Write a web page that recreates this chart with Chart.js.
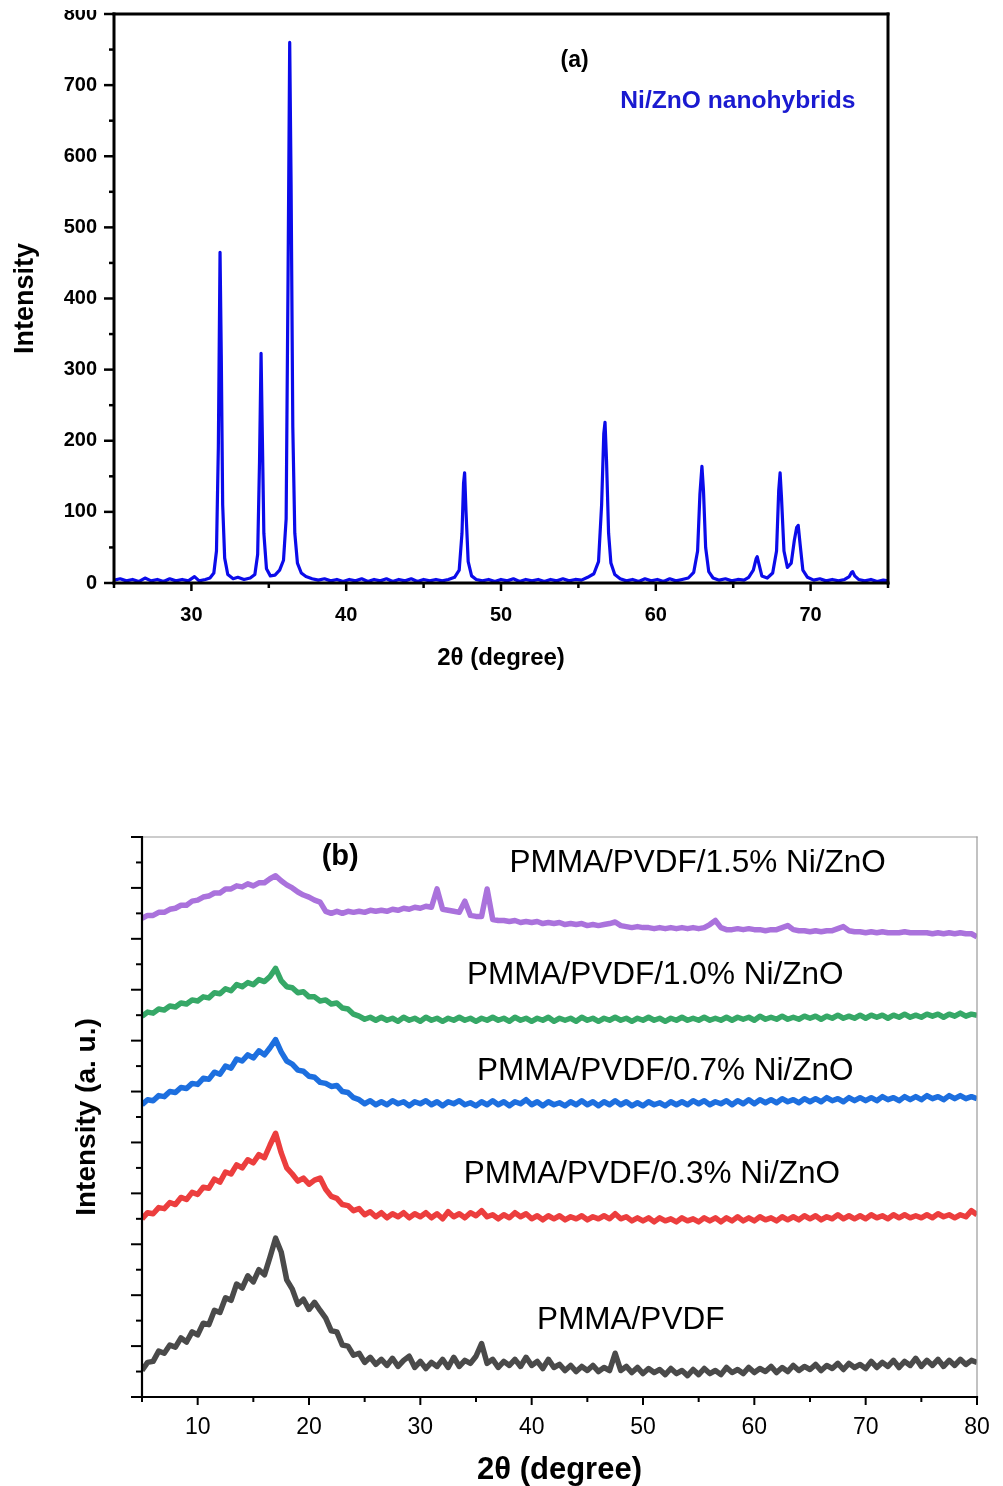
<!DOCTYPE html>
<html>
<head>
<meta charset="utf-8">
<title>XRD patterns</title>
<script src="https://cdn.jsdelivr.net/npm/chart.js@4.4.0/dist/chart.umd.min.js"></script>
<style>
  body { margin: 0; background: #fff; overflow: hidden; width: 1003px; height: 1486px; position: relative; }
  #wrapA { position: absolute; top: 10px; left: 0; width: 1003px; height: 690px; overflow: hidden; }
  canvas { position: absolute; left: 0; }
  #chartA { top: -10px; }
  #chartB { top: 760px; }
</style>
</head>
<body>
<div id="wrapA"><canvas id="chartA" width="1003" height="700"></canvas></div>
<canvas id="chartB" width="1003" height="740"></canvas>
<script>
// (a) Ni/ZnO powder pattern: 2theta (degree) and intensity
const thetaA = [25.0,25.4,25.8,26.2,26.6,27.0,27.4,27.8,28.2,28.6,29.0,29.4,29.8,30.2,30.5,30.9,31.2,31.45,31.62,31.74,31.85,31.93,32.02,32.15,32.35,32.7,33.0,33.4,33.8,34.1,34.28,34.4,34.5,34.58,34.68,34.85,35.1,35.4,35.7,35.95,36.12,36.24,36.35,36.44,36.55,36.68,36.85,37.1,37.4,37.8,38.2,38.6,39.0,39.4,39.8,40.2,40.6,41.0,41.4,41.8,42.2,42.6,43.0,43.4,43.8,44.2,44.6,45.0,45.4,45.8,46.2,46.6,47.0,47.3,47.48,47.58,47.65,47.74,47.88,48.1,48.4,48.8,49.2,49.6,50.0,50.4,50.8,51.2,51.6,52.0,52.4,52.8,53.2,53.6,54.0,54.4,54.8,55.2,55.6,56.0,56.3,56.5,56.64,56.72,56.82,56.95,57.1,57.35,57.7,58.1,58.5,58.9,59.3,59.7,60.1,60.5,60.9,61.3,61.7,62.1,62.45,62.7,62.85,62.98,63.08,63.22,63.42,63.7,64.1,64.5,64.9,65.3,65.7,66.0,66.3,66.48,66.55,66.65,66.85,67.2,67.55,67.8,67.94,68.03,68.12,68.28,68.5,68.75,68.95,69.1,69.2,69.32,69.5,69.8,70.2,70.6,71.0,71.4,71.8,72.2,72.5,72.65,72.72,72.85,73.1,73.5,73.9,74.3,74.7,75.0];
const intensityA = [4,6,3,5,2,7,3,5,2,6,3,5,3,9,3,5,7,14,45,190,465,320,110,35,12,6,8,5,7,12,40,170,323,210,70,20,10,11,18,32,90,420,760,560,220,70,28,14,9,6,4,6,3,5,2,5,3,6,2,5,3,6,2,5,3,6,2,5,3,5,3,5,8,18,70,140,155,100,30,10,5,3,5,2,5,3,6,2,5,3,5,2,5,3,6,3,5,4,8,13,30,110,210,226,170,70,28,12,6,3,5,2,6,3,5,2,6,3,5,7,15,45,125,164,130,50,16,7,4,6,3,5,4,8,18,34,37,28,10,7,14,45,130,155,120,45,22,28,60,78,81,55,18,8,4,6,3,5,3,5,9,15,16,10,5,3,5,2,4,3];

// (b) PMMA/PVDF blends, offset vertically (a. u.)
const thetaB = [5,5.5,6,6.5,7,7.5,8,8.5,9,9.5,10,10.5,11,11.5,12,12.5,13,13.5,14,14.5,15,15.5,16,16.5,17,17.5,18,18.5,19,19.5,20,20.5,21,21.5,22,22.5,23,23.5,24,24.5,25,25.5,26,26.5,27,27.5,28,28.5,29,29.5,30,30.5,31,31.5,32,32.5,33,33.5,34,34.5,35,35.5,36,36.5,37,37.5,38,38.5,39,39.5,40,40.5,41,41.5,42,42.5,43,43.5,44,44.5,45,45.5,46,46.5,47,47.5,48,48.5,49,49.5,50,50.5,51,51.5,52,52.5,53,53.5,54,54.5,55,55.5,56,56.5,57,57.5,58,58.5,59,59.5,60,60.5,61,61.5,62,62.5,63,63.5,64,64.5,65,65.5,66,66.5,67,67.5,68,68.5,69,69.5,70,70.5,71,71.5,72,72.5,73,73.5,74,74.5,75,75.5,76,76.5,77,77.5,78,78.5,79,79.5,80];
const blendPure = [0.52,0.68,0.70,0.90,0.86,1.02,0.98,1.16,1.08,1.28,1.22,1.45,1.42,1.70,1.66,1.95,1.90,2.22,2.14,2.38,2.26,2.50,2.40,2.75,3.12,2.85,2.30,2.12,1.82,1.92,1.72,1.86,1.70,1.55,1.30,1.28,1.02,1.00,0.82,0.86,0.68,0.78,0.64,0.74,0.62,0.76,0.60,0.72,0.80,0.58,0.70,0.56,0.68,0.60,0.74,0.58,0.78,0.60,0.72,0.66,0.80,1.05,0.66,0.74,0.58,0.70,0.62,0.74,0.60,0.78,0.62,0.70,0.56,0.74,0.58,0.64,0.52,0.62,0.50,0.60,0.52,0.62,0.50,0.58,0.52,0.86,0.52,0.60,0.48,0.58,0.46,0.56,0.48,0.54,0.44,0.56,0.46,0.52,0.42,0.54,0.44,0.56,0.46,0.52,0.44,0.58,0.48,0.54,0.46,0.58,0.48,0.56,0.50,0.60,0.48,0.58,0.50,0.62,0.52,0.60,0.54,0.64,0.52,0.62,0.56,0.66,0.54,0.66,0.58,0.64,0.56,0.70,0.58,0.68,0.60,0.72,0.58,0.70,0.62,0.76,0.60,0.72,0.62,0.74,0.60,0.72,0.62,0.74,0.64,0.72,0.68];
const blend03 = [3.50,3.62,3.60,3.72,3.70,3.82,3.78,3.92,3.88,4.02,3.98,4.12,4.10,4.28,4.22,4.42,4.38,4.56,4.50,4.66,4.60,4.76,4.70,4.95,5.18,4.80,4.50,4.38,4.24,4.30,4.18,4.26,4.30,4.08,3.94,3.90,3.78,3.76,3.66,3.70,3.58,3.64,3.54,3.62,3.52,3.60,3.54,3.62,3.52,3.60,3.54,3.62,3.52,3.60,3.50,3.64,3.54,3.60,3.52,3.62,3.56,3.66,3.54,3.58,3.50,3.58,3.52,3.62,3.54,3.60,3.50,3.56,3.48,3.56,3.50,3.56,3.48,3.54,3.50,3.56,3.48,3.54,3.50,3.56,3.50,3.60,3.50,3.54,3.46,3.52,3.46,3.52,3.44,3.52,3.46,3.50,3.44,3.52,3.46,3.50,3.44,3.52,3.46,3.52,3.44,3.52,3.46,3.54,3.46,3.52,3.46,3.54,3.48,3.52,3.46,3.54,3.48,3.54,3.48,3.56,3.50,3.56,3.48,3.54,3.50,3.58,3.50,3.56,3.50,3.56,3.50,3.58,3.52,3.56,3.50,3.58,3.52,3.58,3.52,3.56,3.52,3.58,3.52,3.60,3.54,3.58,3.52,3.58,3.54,3.66,3.58];
const blend07 = [5.74,5.84,5.82,5.92,5.90,6.00,5.98,6.08,6.06,6.16,6.14,6.26,6.24,6.38,6.34,6.50,6.46,6.64,6.60,6.72,6.66,6.80,6.72,6.86,7.02,6.78,6.60,6.54,6.42,6.40,6.30,6.28,6.18,6.16,6.10,6.12,6.00,5.98,5.88,5.84,5.76,5.82,5.74,5.80,5.74,5.82,5.76,5.80,5.72,5.80,5.76,5.82,5.74,5.80,5.72,5.80,5.76,5.82,5.74,5.78,5.72,5.80,5.74,5.82,5.74,5.80,5.72,5.80,5.76,5.84,5.74,5.80,5.72,5.80,5.74,5.78,5.72,5.80,5.74,5.82,5.74,5.80,5.72,5.80,5.74,5.82,5.74,5.80,5.72,5.78,5.72,5.80,5.74,5.78,5.72,5.80,5.74,5.80,5.74,5.82,5.76,5.82,5.74,5.80,5.76,5.82,5.74,5.82,5.76,5.84,5.76,5.84,5.78,5.84,5.78,5.86,5.80,5.84,5.78,5.86,5.80,5.86,5.80,5.88,5.82,5.86,5.80,5.88,5.82,5.88,5.82,5.88,5.82,5.90,5.84,5.88,5.82,5.90,5.84,5.90,5.84,5.92,5.86,5.90,5.84,5.92,5.86,5.92,5.86,5.90,5.86];
const blend10 = [7.48,7.56,7.54,7.62,7.60,7.68,7.66,7.74,7.72,7.80,7.78,7.86,7.84,7.94,7.92,8.02,7.98,8.10,8.06,8.14,8.10,8.20,8.16,8.26,8.42,8.18,8.06,8.04,7.94,7.96,7.86,7.86,7.78,7.80,7.72,7.74,7.64,7.62,7.52,7.48,7.42,7.46,7.40,7.46,7.40,7.44,7.38,7.46,7.40,7.44,7.38,7.46,7.40,7.44,7.38,7.44,7.40,7.46,7.40,7.44,7.38,7.44,7.40,7.46,7.40,7.44,7.38,7.46,7.40,7.44,7.38,7.44,7.40,7.46,7.38,7.44,7.40,7.44,7.38,7.46,7.40,7.44,7.38,7.44,7.40,7.46,7.40,7.44,7.38,7.44,7.40,7.46,7.40,7.44,7.38,7.44,7.40,7.46,7.40,7.44,7.40,7.46,7.40,7.44,7.40,7.46,7.40,7.46,7.42,7.46,7.40,7.48,7.42,7.46,7.42,7.48,7.42,7.46,7.42,7.48,7.44,7.48,7.42,7.48,7.44,7.50,7.44,7.48,7.44,7.50,7.44,7.50,7.46,7.50,7.44,7.50,7.46,7.52,7.46,7.50,7.46,7.52,7.48,7.52,7.46,7.52,7.48,7.54,7.48,7.52,7.50];
const blend15 = [9.40,9.46,9.46,9.52,9.52,9.58,9.60,9.66,9.66,9.74,9.76,9.82,9.84,9.90,9.90,9.98,9.98,10.04,10.02,10.08,10.04,10.10,10.10,10.18,10.24,10.14,10.06,10.00,9.92,9.86,9.82,9.76,9.72,9.54,9.50,9.54,9.50,9.54,9.52,9.54,9.52,9.56,9.54,9.56,9.54,9.58,9.56,9.60,9.58,9.62,9.60,9.64,9.62,9.98,9.58,9.56,9.54,9.52,9.74,9.46,9.44,9.44,9.98,9.38,9.36,9.36,9.34,9.36,9.32,9.34,9.32,9.34,9.30,9.32,9.30,9.32,9.28,9.30,9.28,9.30,9.26,9.28,9.26,9.28,9.30,9.33,9.26,9.24,9.22,9.24,9.22,9.22,9.20,9.22,9.20,9.22,9.20,9.22,9.20,9.22,9.20,9.22,9.28,9.36,9.22,9.18,9.18,9.20,9.18,9.20,9.18,9.18,9.16,9.18,9.18,9.22,9.26,9.18,9.16,9.16,9.14,9.16,9.14,9.16,9.16,9.20,9.24,9.16,9.14,9.14,9.12,9.14,9.12,9.14,9.12,9.12,9.12,9.14,9.12,9.12,9.12,9.12,9.10,9.12,9.10,9.12,9.10,9.12,9.10,9.10,9.04];

const FONT = "'Liberation Sans', Arial, sans-serif";
Chart.defaults.font.family = FONT;
Chart.defaults.color = '#000';

// draws the axis frame, outward major/minor ticks and text notes
const frameTicks = {
  id: 'frameTicks',
  afterDraw(chart, args, opts) {
    const { ctx, chartArea: area, scales } = chart;
    const xs = scales.x, ys = scales.y;
    ctx.save();

    opts.ticks.forEach(t => {
      const scale = scales[t.axis];
      scale.ticks.forEach(tick => {
        const r = tick.value / t.major;
        const len = Math.abs(r - Math.round(r)) < 1e-6 ? t.majorLen : t.minorLen;
        const p = scale.getPixelForValue(tick.value);
        ctx.beginPath();
        ctx.lineWidth = t.width;
        ctx.strokeStyle = '#000';
        if (scale.isHorizontal()) {
          ctx.moveTo(p, area.bottom);
          ctx.lineTo(p, area.bottom + len);
        } else {
          ctx.moveTo(area.left, p);
          ctx.lineTo(area.left - len, p);
        }
        ctx.stroke();
      });
    });

    opts.sides.forEach(s => {
      const h = s.width / 2;
      ctx.beginPath();
      ctx.lineWidth = s.width;
      ctx.strokeStyle = s.color;
      if (s.side === 'top') { ctx.moveTo(area.left - h, area.top); ctx.lineTo(area.right + h, area.top); }
      if (s.side === 'bottom') { ctx.moveTo(area.left - h, area.bottom); ctx.lineTo(area.right + h, area.bottom); }
      if (s.side === 'left') { ctx.moveTo(area.left, area.top - h); ctx.lineTo(area.left, area.bottom + h); }
      if (s.side === 'right') { ctx.moveTo(area.right, area.top - h); ctx.lineTo(area.right, area.bottom + h); }
      ctx.stroke();
    });

    ctx.textAlign = 'center';
    ctx.textBaseline = 'middle';
    opts.notes.forEach(n => {
      ctx.font = n.font;
      ctx.fillStyle = n.color || '#000';
      ctx.fillText(n.text, xs.getPixelForValue(n.x), ys.getPixelForValue(n.y));
    });
    ctx.restore();
  }
};

// keep the plot box fixed: no extra room for overhanging end labels
const fixWidth = w => scale => { scale.width = w; scale.paddingTop = 0; scale.paddingBottom = 0; };
const fixHeight = h => scale => { scale.height = h; scale.paddingLeft = 0; scale.paddingRight = 0; };

// Chart (a)
new Chart(document.getElementById('chartA'), {
  type: 'line',
  data: {
    datasets: [{
      data: thetaA.map((x, i) => ({ x: x, y: intensityA[i] })),
      borderColor: '#0b0bea',
      borderWidth: 3.2,
      borderJoinStyle: 'round',
      pointRadius: 0,
      tension: 0
    }]
  },
  options: {
    responsive: false,
    animation: false,
    layout: { padding: { top: 14, right: 115, left: 0, bottom: 0 } },
    plugins: {
      legend: { display: false },
      tooltip: { enabled: false },
      frameTicks: {
        ticks: [
          { axis: 'x', major: 10, majorLen: 8, minorLen: 5, width: 2.5 },
          { axis: 'y', major: 100, majorLen: 10, minorLen: 5, width: 2.5 }
        ],
        sides: [
          { side: 'top', color: '#000', width: 3 },
          { side: 'right', color: '#000', width: 3 },
          { side: 'left', color: '#000', width: 3 },
          { side: 'bottom', color: '#000', width: 3 }
        ],
        notes: [
          { text: '(a)', x: 54.75, y: 735, font: 'bold 23px ' + FONT },
          { text: 'Ni/ZnO nanohybrids', x: 65.3, y: 678, font: 'bold 24.6px ' + FONT, color: '#1a1ad0' }
        ]
      }
    },
    scales: {
      x: {
        type: 'linear',
        min: 25,
        max: 75,
        grid: { display: false, drawTicks: false },
        border: { display: false },
        ticks: {
          stepSize: 5,
          autoSkip: false,
          maxRotation: 0,
          padding: 20,
          font: { size: 20, weight: 'bold' },
          callback: v => (v % 10 === 0 ? v : '')
        },
        title: {
          display: true,
          text: '2θ (degree)',
          font: { size: 24, weight: 'bold' },
          padding: { top: 0, bottom: 27 }
        },
        afterFit: fixHeight(117)
      },
      y: {
        min: 0,
        max: 800,
        grid: { display: false, drawTicks: false },
        border: { display: false },
        ticks: {
          stepSize: 50,
          padding: 17,
          font: { size: 20, weight: 'bold' },
          callback: v => (v % 100 === 0 ? v : '')
        },
        title: {
          display: true,
          text: 'Intensity',
          font: { size: 27, weight: 'bold' },
          padding: { top: 9, bottom: 0 }
        },
        afterFit: fixWidth(114)
      }
    }
  },
  plugins: [frameTicks]
});

// Chart (b)
const blendSeries = [
  { label: 'PMMA/PVDF', values: blendPure, color: '#4a4a4a' },
  { label: 'PMMA/PVDF/0.3% Ni/ZnO', values: blend03, color: '#ec3e3e' },
  { label: 'PMMA/PVDF/0.7% Ni/ZnO', values: blend07, color: '#1d6fdf' },
  { label: 'PMMA/PVDF/1.0% Ni/ZnO', values: blend10, color: '#36a867' },
  { label: 'PMMA/PVDF/1.5% Ni/ZnO', values: blend15, color: '#aa72dc' }
];

const noteFont = '31.5px ' + FONT;

new Chart(document.getElementById('chartB'), {
  type: 'line',
  data: {
    datasets: blendSeries.map(s => ({
      label: s.label,
      data: thetaB.map((x, i) => ({ x: x, y: s.values[i] })),
      borderColor: s.color,
      borderWidth: 5.5,
      borderJoinStyle: 'round',
      pointRadius: 0,
      tension: 0
    }))
  },
  options: {
    responsive: false,
    animation: false,
    layout: { padding: { top: 77, right: 26, left: 0, bottom: 0 } },
    plugins: {
      legend: { display: false },
      tooltip: { enabled: false },
      frameTicks: {
        ticks: [
          { axis: 'x', major: 10, majorLen: 8, minorLen: 5, width: 2 },
          { axis: 'y', major: 1, majorLen: 11, minorLen: 6, width: 2 }
        ],
        sides: [
          { side: 'top', color: '#999', width: 1.2 },
          { side: 'right', color: '#999', width: 1.2 },
          { side: 'left', color: '#000', width: 2.2 },
          { side: 'bottom', color: '#000', width: 2.2 }
        ],
        notes: [
          { text: '(b)', x: 22.8, y: 10.61, font: 'bold 29px ' + FONT },
          { text: 'PMMA/PVDF/1.5% Ni/ZnO', x: 54.9, y: 10.49, font: noteFont },
          { text: 'PMMA/PVDF/1.0% Ni/ZnO', x: 51.1, y: 8.29, font: noteFont },
          { text: 'PMMA/PVDF/0.7% Ni/ZnO', x: 52.0, y: 6.39, font: noteFont },
          { text: 'PMMA/PVDF/0.3% Ni/ZnO', x: 50.8, y: 4.38, font: noteFont },
          { text: 'PMMA/PVDF', x: 48.9, y: 1.51, font: noteFont }
        ]
      }
    },
    scales: {
      x: {
        type: 'linear',
        min: 5,
        max: 80,
        grid: { display: false, drawTicks: false },
        border: { display: false },
        ticks: {
          stepSize: 5,
          autoSkip: false,
          maxRotation: 0,
          padding: 17,
          font: { size: 23 },
          callback: v => (v % 10 === 0 ? v : '')
        },
        title: {
          display: true,
          text: '2θ (degree)',
          font: { size: 31, weight: 'bold' },
          padding: { top: 0, bottom: 11 }
        },
        afterFit: fixHeight(103)
      },
      y: {
        min: 0,
        max: 11,
        grid: { display: false, drawTicks: false },
        border: { display: false },
        ticks: {
          stepSize: 0.5,
          callback: () => ''
        },
        title: {
          display: true,
          text: 'Intensity (a. u.)',
          font: { size: 28, weight: 'bold' },
          padding: { top: 70, bottom: 0 }
        },
        afterFit: fixWidth(142)
      }
    }
  },
  plugins: [frameTicks]
});
</script>
</body>
</html>
